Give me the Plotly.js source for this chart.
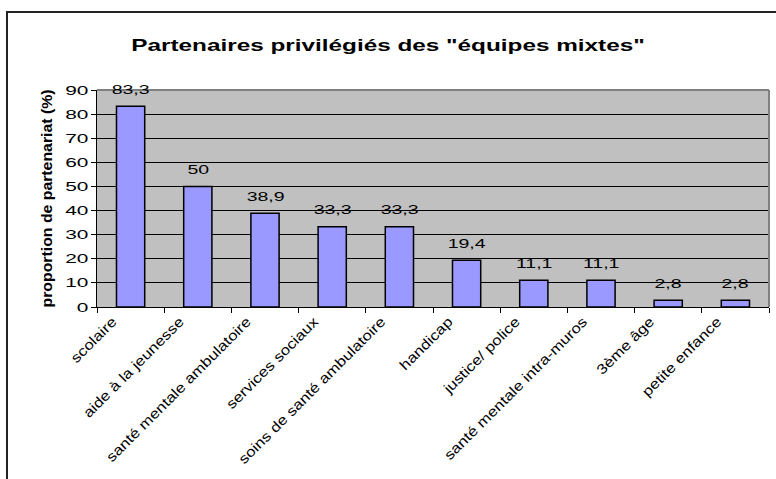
<!DOCTYPE html>
<html>
<head>
<meta charset="utf-8">
<script src="https://cdn.plot.ly/plotly-3.0.1.min.js"></script>
<style>
  html, body { margin: 0; padding: 0; background: #fff; }
  #wrap { position: relative; width: 776px; height: 479px; overflow: hidden; }
  #chart { position: absolute; left: 0; top: 0; width: 776px; height: 479px; }
  #frame { position: absolute; left: 6px; top: 11px; width: 800px; height: 600px;
           border-left: 2px solid #222; border-top: 2px solid #222; pointer-events: none; }
</style>
</head>
<body>
<div id="wrap">
  <div id="chart"></div>
  <div id="frame"></div>
</div>
<script>
var categories = ['scolaire', 'aide à la jeunesse', 'santé mentale ambulatoire', 'services sociaux',
                  'soins de santé ambulatoire', 'handicap', 'justice/ police',
                  'santé mentale intra-muros', '3ème âge', 'petite enfance'];
var values = [83.3, 50, 38.9, 33.3, 33.3, 19.4, 11.1, 11.1, 2.8, 2.8];
var yTickVals = [0, 10, 20, 30, 40, 50, 60, 70, 80, 90];
var chartTitle = 'Partenaires privilégiés des "équipes mixtes"';
var yTitle = 'proportion de partenariat (%)';

function fmt(v) { return String(v).replace('.', ','); }

var FONT = 'Liberation Sans, Arial, sans-serif';

var trace = {
  type: 'bar',
  x: categories,
  y: values,
  marker: { color: '#9999FF', line: { color: '#000000', width: 1.5 } },
  hoverinfo: 'skip'
};

var annotations = categories.map(function (c, i) {
  return {
    x: c, y: values[i], xref: 'x', yref: 'y',
    text: fmt(values[i]), showarrow: false,
    yanchor: 'middle', yshift: 17,
    font: { family: FONT, size: 13, color: '#000' }
  };
});

var layout = {
  width: 776, height: 479,
  margin: { l: 97, r: 7, t: 90, b: 172 },
  paper_bgcolor: 'rgba(0,0,0,0)',
  plot_bgcolor: '#C0C0C0',
  showlegend: false,
  bargap: 0.58,
  title: {
    text: chartTitle,
    x: 0.5, xref: 'container', xanchor: 'center',
    y: 1 - 45 / 479, yref: 'container', yanchor: 'middle',
    font: { family: FONT, size: 17, color: '#000', weight: 'bold' }
  },
  xaxis: {
    type: 'category',
    tickson: 'boundaries',
    ticks: 'outside', ticklen: 5, tickcolor: '#000', tickwidth: 1,
    showline: true, linecolor: '#000', linewidth: 1,
    showgrid: false,
    tickangle: -45,
    ticklabelshift: -18,
    tickfont: { family: FONT, size: 14, color: '#000' },
    automargin: false,
    fixedrange: true
  },
  yaxis: {
    range: [0, 90],
    tickvals: yTickVals,
    ticktext: yTickVals.map(String),
    ticks: 'outside', ticklen: 5, tickcolor: '#000', tickwidth: 1,
    showline: true, linecolor: '#000', linewidth: 1,
    showgrid: true, gridcolor: '#000', gridwidth: 1,
    zeroline: false,
    tickfont: { family: FONT, size: 13, color: '#000' },
    title: {
      text: yTitle, standoff: 18,
      font: { family: FONT, size: 14, color: '#000', weight: 'bold' }
    },
    automargin: false,
    fixedrange: true
  },
  annotations: annotations,
  shapes: [
    { type: 'line', xref: 'paper', yref: 'paper', x0: 0, x1: 1, y0: 1, y1: 1,
      line: { color: '#808080', width: 2 }, layer: 'above' },
    { type: 'line', xref: 'paper', yref: 'paper', x0: 1, x1: 1, y0: 0, y1: 1,
      line: { color: '#808080', width: 2 }, layer: 'above' }
  ]
};

Plotly.newPlot('chart', [trace], layout, { staticPlot: true, displayModeBar: false }).then(function (gd) {
  function stretch(sel, f) {
    gd.querySelectorAll(sel).forEach(function (t) {
      var w = t.getComputedTextLength();
      if (w > 0) {
        t.setAttribute('textLength', (w * f).toFixed(1));
        t.setAttribute('lengthAdjust', 'spacingAndGlyphs');
      }
    });
  }
  stretch('.gtitle', 1.43);
  stretch('.ytick text', 1.6);
  stretch('.xtick text', 1.2);
  stretch('.annotation-text', 1.5);
  stretch('.ytitle', 1.13);
});
</script>
</body>
</html>
